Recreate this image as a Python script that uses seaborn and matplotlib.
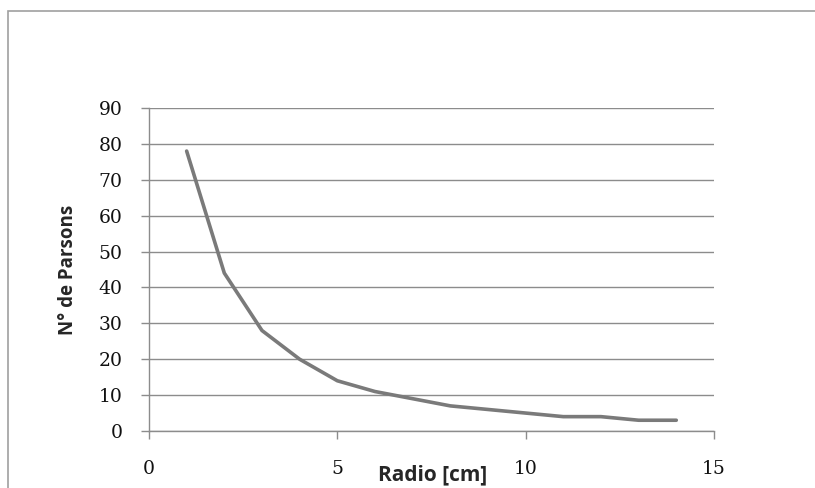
import matplotlib
matplotlib.use("Agg")
import matplotlib.pyplot as plt
import seaborn as sns
import pandas as pd
from matplotlib.patches import Rectangle

sns.set_style("white")

radio = [1, 2, 3, 4, 5, 6, 7, 8, 9, 10, 11, 12, 13, 14]
personas = [78, 44, 28, 20, 14, 11, 9, 7, 6, 5, 4, 4, 3, 3]
x_ticks = [0, 5, 10, 15]
y_ticks = [0, 10, 20, 30, 40, 50, 60, 70, 80, 90]

df = pd.DataFrame({"Radio": radio, "Personas": personas})

fig = plt.figure(figsize=(8.15, 4.88), dpi=100)
ax = fig.add_axes([0.1828, 0.1168, 0.876 - 0.1828, 0.7787 - 0.1168])

# marco exterior del grafico
fig.patches.append(Rectangle((8 / 815, -0.1), 1.2, 1 - 11 / 488 + 0.1,
                             transform=fig.transFigure, fill=False,
                             edgecolor="#a0a0a0", linewidth=1.2))

sns.lineplot(data=df, x="Radio", y="Personas", ax=ax, color="#7a7a7a", linewidth=2.6)

ax.set_xlim(0, 15)
ax.set_ylim(0, 90)
ax.set_xticks(x_ticks)
ax.set_yticks(y_ticks)
ax.yaxis.grid(True, color="#8c8c8c", linewidth=1.0)
ax.xaxis.grid(False)

for s in ["top", "right"]:
    ax.spines[s].set_visible(False)
for s in ["left", "bottom"]:
    ax.spines[s].set_color("#8c8c8c")
    ax.spines[s].set_linewidth(1.0)

ax.tick_params(axis="y", direction="out", length=6, width=1, color="#8c8c8c", pad=13, left=True)
ax.tick_params(axis="x", direction="out", length=6, width=1, color="#8c8c8c", pad=15, bottom=True)
for lab in ax.get_xticklabels() + ax.get_yticklabels():
    lab.set_fontfamily("DejaVu Serif")
    lab.set_fontsize(13.5)
    lab.set_color("#111111")

ax.set_xlabel("Radio [cm]", family="Open Sans", fontsize=15, fontweight="bold")
ax.xaxis.set_label_coords((433 - 149) / (714 - 149), -0.105)
ax.set_ylabel("N° de Parsons", family="Open Sans", fontsize=13.5, fontweight="bold")
ax.yaxis.set_label_coords(-(149 - 78) / (714 - 149), 0.5)

fig.savefig("out.png", dpi=100)
